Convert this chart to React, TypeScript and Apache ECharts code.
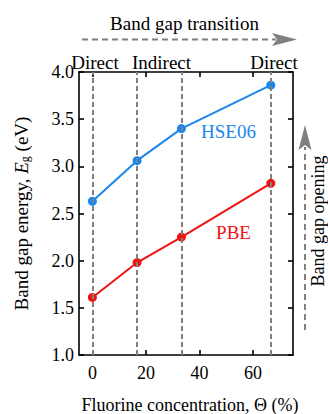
import React, { useEffect, useRef } from "react";
import * as echarts from "echarts";

const fluorine = [0, 16.7, 33.3, 66.7];
const hse06 = [2.63, 3.06, 3.4, 3.86];
const pbe = [1.61, 1.98, 2.25, 2.82];
const transitionX = [0, 16.7, 33.3, 66.7];
const xTicks = [0, 20, 40, 60];
const gapTypes = ["Direct", "Indirect", "Direct"];

const FONT = "Liberation Serif, serif";
const BLUE = "#1b86ee";
const RED = "#ee1414";
const GRAY = "#808080";

export default function App() {
  const ref = useRef<HTMLDivElement>(null);
  useEffect(() => {
    if (!ref.current) return;
    const chart = echarts.init(ref.current, undefined, { renderer: "svg" });
    const axisLine = { show: true, onZero: false, lineStyle: { color: "#000", width: 1.6 } };
    const tick = { show: true, inside: true, length: 5, lineStyle: { color: "#000", width: 1.6 } };
    const xCommon = {
      type: "value",
      min: -5,
      max: 75,
      axisLine,
      splitLine: { show: false },
    };
    const yCommon = {
      type: "value",
      min: 1,
      max: 4,
      interval: 0.5,
      axisLine,
      splitLine: { show: false },
    };
    const txt = (text: string, x: number, y: number, fill = "#000", extra: any = {}, size = 19) => ({
      type: "text",
      x,
      y,
      ...extra,
      style: { text, fontSize: size, fontFamily: FONT, fill, align: "center", verticalAlign: "middle" },
    });
    chart.setOption({
      animation: false,
      textStyle: { fontFamily: FONT },
      grid: { left: 79, right: 35, top: 72, bottom: 59 },
      xAxis: [
        {
          ...xCommon,
          position: "bottom",
          axisTick: { ...tick, customValues: xTicks },
          axisLabel: {
            customValues: xTicks,
            fontSize: 18,
            fontFamily: FONT,
            color: "#000",
            margin: 9,
          },
        },
        {
          ...xCommon,
          position: "top",
          axisTick: { ...tick, customValues: xTicks },
          axisLabel: { show: false },
        },
      ],
      yAxis: [
        {
          ...yCommon,
          position: "left",
          axisTick: tick,
          axisLabel: {
            fontSize: 18,
            fontFamily: FONT,
            color: "#000",
            margin: 5,
            formatter: (v: number) => v.toFixed(1),
          },
        },
        {
          ...yCommon,
          position: "right",
          axisTick: tick,
          axisLabel: { show: false },
        },
      ],
      series: [
        {
          type: "line",
          data: [],
          z: 1,
          markLine: {
            silent: true,
            symbol: ["none", "none"],
            label: { show: false },
            lineStyle: { type: [5, 3], color: GRAY, width: 2 },
            data: transitionX.map((v) => ({ xAxis: v })),
          },
        },
        {
          name: "HSE06",
          type: "line",
          z: 3,
          data: fluorine.map((x, i) => [x, hse06[i]]),
          symbol: "circle",
          symbolSize: 9,
          lineStyle: { color: BLUE, width: 2 },
          itemStyle: { color: BLUE },
        },
        {
          name: "PBE",
          type: "line",
          z: 3,
          data: fluorine.map((x, i) => [x, pbe[i]]),
          symbol: "circle",
          symbolSize: 9,
          lineStyle: { color: RED, width: 2 },
          itemStyle: { color: RED },
        },
      ],
      graphic: [
        txt("Band gap transition", 184.5, 23),
        {
          type: "line",
          shape: { x1: 82, y1: 39.5, x2: 276, y2: 39.5 },
          style: { stroke: GRAY, lineWidth: 2, lineDash: [6, 4] },
        },
        {
          type: "polygon",
          shape: { points: [[272, 33], [297, 39.5], [272, 46], [277, 39.5]] },
          style: { fill: GRAY },
        },
        {
          type: "line",
          shape: { x1: 305, y1: 330, x2: 305, y2: 147 },
          style: { stroke: GRAY, lineWidth: 2, lineDash: [6, 4] },
        },
        {
          type: "polygon",
          shape: { points: [[298.5, 150], [305, 125], [311.5, 150], [305, 145]] },
          style: { fill: GRAY },
        },
        txt("Band gap opening", 317.5, 221, "#000", { rotation: Math.PI / 2 }, 18),
        txt(gapTypes[0], 95, 62),
        txt(gapTypes[1], 161.5, 62),
        txt(gapTypes[2], 274, 62),
        txt("HSE06", 228.5, 131, BLUE),
        txt("PBE", 233.5, 232, RED),
        {
          type: "text",
          x: 20,
          y: 213.5,
          rotation: Math.PI / 2,
          style: {
            text: "{a|Band gap energy, }{i|E}{s|g}{a| (eV)}",
            align: "center",
            verticalAlign: "middle",
            fill: "#000",
            fontFamily: FONT,
            rich: {
              a: { fontSize: 19, fontFamily: FONT, lineHeight: 22, verticalAlign: "bottom", fill: "#000" },
              i: { fontSize: 19, fontFamily: FONT, fontStyle: "italic", lineHeight: 22, verticalAlign: "bottom", fill: "#000" },
              s: { fontSize: 12, fontFamily: FONT, lineHeight: 8, verticalAlign: "bottom", fill: "#000" },
            },
          },
        },
        {
          type: "text",
          x: 190,
          y: 405,
          style: { text: "Fluorine concentration, Θ (%)", fontSize: 18, fontFamily: FONT, fill: "#000", align: "center", verticalAlign: "middle" },
        },
      ],
    });
    return () => chart.dispose();
  }, []);
  return (
    <div
      ref={ref}
      style={{ position: "absolute", left: 0, top: 0, width: 328, height: 414 }}
    />
  );
}
